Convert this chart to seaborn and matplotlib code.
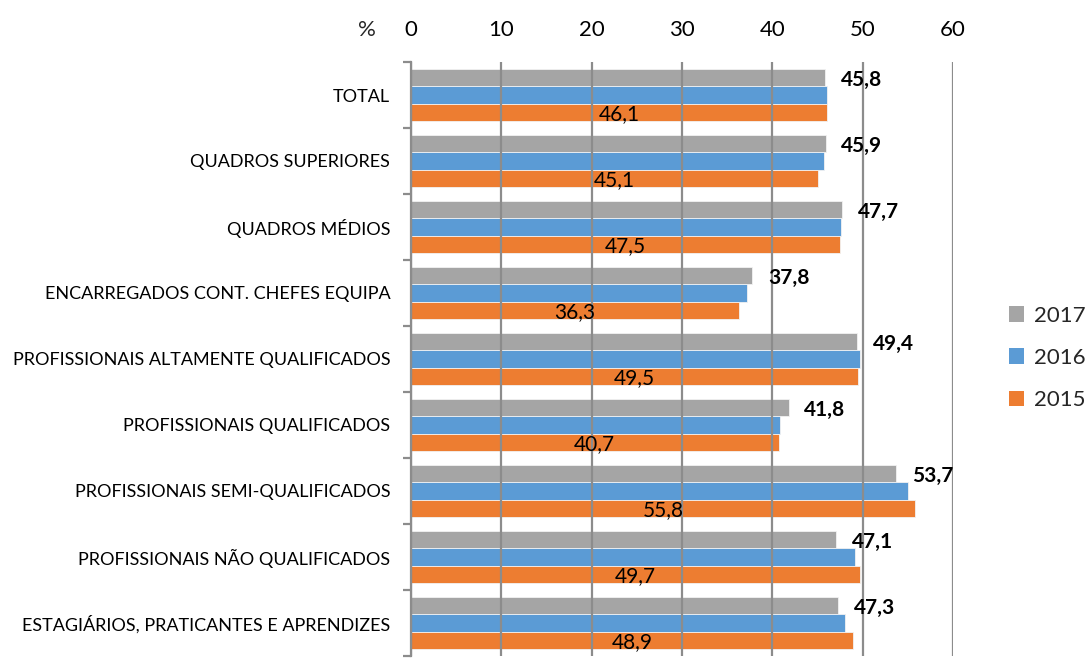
import matplotlib
matplotlib.use("Agg")
import matplotlib.pyplot as plt
from matplotlib.patches import Patch
from matplotlib.ticker import FixedLocator
import seaborn as sns
import pandas as pd

categories = [
    "TOTAL",
    "QUADROS SUPERIORES",
    "QUADROS MÉDIOS",
    "ENCARREGADOS CONT. CHEFES EQUIPA",
    "PROFISSIONAIS ALTAMENTE QUALIFICADOS",
    "PROFISSIONAIS QUALIFICADOS",
    "PROFISSIONAIS SEMI-QUALIFICADOS",
    "PROFISSIONAIS NÃO QUALIFICADOS",
    "ESTAGIÁRIOS, PRATICANTES E APRENDIZES",
]
years = ["2017", "2016", "2015"]
v2017 = [45.8, 45.9, 47.7, 37.8, 49.4, 41.8, 53.7, 47.1, 47.3]
v2016 = [46.1, 45.7, 47.6, 37.2, 49.7, 40.9, 55.0, 49.1, 48.0]
v2015 = [46.1, 45.1, 47.5, 36.3, 49.5, 40.7, 55.8, 49.7, 48.9]
x_ticks = [0, 10, 20, 30, 40, 50, 60]

colors = {"2017": "#A5A5A5", "2016": "#5B9BD5", "2015": "#ED7D31"}

rows = []
for yr, vals in zip(years, [v2017, v2016, v2015]):
    for c, v in zip(categories, vals):
        rows.append({"cat": c, "year": yr, "value": v})
df = pd.DataFrame(rows)

sns.set_theme(style="white")
plt.rcParams["font.family"] = ["Lato", "DejaVu Sans"]

fig = plt.figure(figsize=(10.86, 6.58), dpi=100)
ax = fig.add_axes([411 / 1086, 2 / 658, 542 / 1086, 594 / 658])

width = 0.78
sns.barplot(data=df, y="cat", x="value", hue="year", order=categories,
            hue_order=years, palette=colors, orient="h", width=width,
            gap=0, legend=False, edgecolor="#f2f2f2", linewidth=0.6,
            saturation=1, ax=ax, errorbar=None)

ax.set_xlim(0, 60)
ax.set_ylim(len(categories) - 0.5, -0.5)
ax.set_xlabel("")
ax.set_ylabel("")

ax.xaxis.tick_top()
ax.set_xticks(x_ticks)
ax.set_xticklabels([str(t) for t in x_ticks])
ax.tick_params(axis="x", length=0, pad=16, labelsize=16, colors="black")
ax.grid(axis="x", color="#8c8c8c", linewidth=1.6)
ax.grid(axis="y", visible=False)
ax.set_axisbelow(False)

ax.tick_params(axis="y", which="major", length=0, pad=15, labelsize=13,
               colors="black")
ax.yaxis.set_minor_locator(FixedLocator([i - 0.5 for i in range(len(categories) + 1)]))
ax.tick_params(axis="y", which="minor", length=6, width=1.6, color="#8c8c8c", left=True)

for s in ["top", "right", "bottom"]:
    ax.spines[s].set_visible(False)
ax.spines["left"].set_color("#8c8c8c")
ax.spines["left"].set_linewidth(1.6)

bh = width / 3
for i in range(len(categories)):
    ax.text(v2017[i] + 1.75, i - bh + 0.03, f"{v2017[i]:.1f}".replace(".", ","),
            ha="left", va="center", fontsize=15, fontweight="bold", zorder=5,
            color="black")
    ax.text(v2015[i] / 2, i + bh + 0.03, f"{v2015[i]:.1f}".replace(".", ","),
            ha="center", va="center", fontsize=15, zorder=5, color="black")

fig.text(367 / 1086, 1 - 30 / 658, "%", ha="center", va="center", fontsize=16)

handles = [Patch(facecolor=colors[y], edgecolor="none") for y in years]
fig.legend(handles, years, loc="center left",
           bbox_to_anchor=(1000 / 1086, 1 - 358 / 658), frameon=False,
           fontsize=16, handlelength=0.7, handleheight=0.7,
           handletextpad=0.45, labelspacing=1.0, borderaxespad=0)

fig.savefig("out.png", dpi=100)
